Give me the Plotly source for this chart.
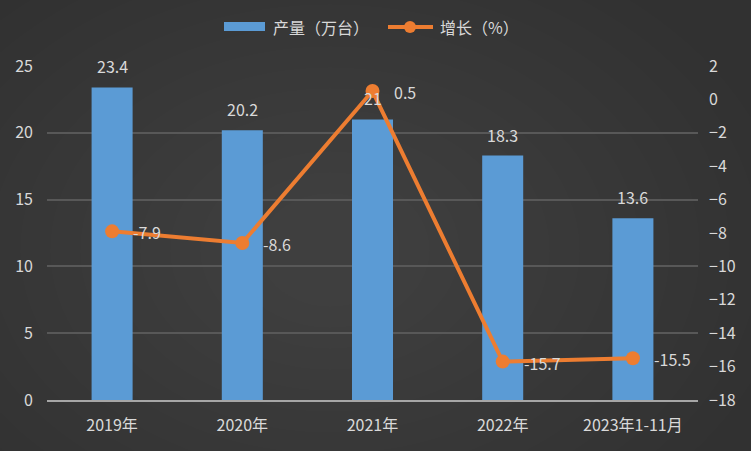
import plotly.graph_objects as go

categories = ["2019年", "2020年", "2021年", "2022年", "2023年1-11月"]
production = [23.4, 20.2, 21, 18.3, 13.6]
growth = [-7.9, -8.6, 0.5, -15.7, -15.5]
prod_labels = ["23.4", "20.2", "21", "18.3", "13.6"]
growth_labels = ["-7.9", "-8.6", "0.5", "-15.7", "-15.5"]
left_ticks = [0, 5, 10, 15, 20, 25]
right_ticks = [2, 0, -2, -4, -6, -8, -10, -12, -14, -16, -18]
series_names = ["产量（万台）", "增长（%）"]

FONT = "Noto Sans CJK SC"
TXT = "#d9d9d9"
BLUE = "#5b9bd5"
ORANGE = "#ed7d31"
W, H = 751, 451
L, R, T, B = 47, 53, 66, 51
PW, PH = W - L - R, H - T - B

def px(x):
    return (x - L) / PW

def py(y):
    return (H - B - y) / PH

fig = go.Figure()
fig.add_trace(go.Bar(
    x=categories, y=production, name=series_names[0],
    marker=dict(color=BLUE, line=dict(width=0)),
    width=0.315, showlegend=False, hoverinfo="skip",
))
fig.add_trace(go.Scatter(
    x=categories, y=growth, name=series_names[1], yaxis="y2",
    mode="lines+markers",
    line=dict(color=ORANGE, width=4),
    marker=dict(color=ORANGE, size=14),
    showlegend=False,
))

shapes = []
# soft radial background glow
n = 14
for i in range(n):
    rx = 460 - i * 30
    ry = 330 - i * 21
    cx, cy = 330, 250
    shapes.append(dict(type="circle", xref="paper", yref="paper", layer="below",
                       x0=px(cx - rx), x1=px(cx + rx), y0=py(cy + ry), y1=py(cy - ry),
                       fillcolor="rgba(255,255,255,0.008)", line=dict(width=0)))
# manual legend
shapes.append(dict(type="rect", xref="paper", yref="paper",
                   x0=px(224), x1=px(265), y0=py(31), y1=py(22),
                   fillcolor=BLUE, line=dict(width=0)))
shapes.append(dict(type="line", xref="paper", yref="paper",
                   x0=px(388), x1=px(433), y0=py(27), y1=py(27),
                   line=dict(color=ORANGE, width=4)))
shapes.append(dict(type="circle", xref="paper", yref="paper",
                   x0=px(404), x1=px(416), y0=py(33), y1=py(21),
                   fillcolor=ORANGE, line=dict(width=0)))

lab_font = dict(size=16, color=TXT, family=FONT)
annotations = [
    dict(text=series_names[0], xref="paper", yref="paper", x=px(271), y=py(27),
         xanchor="left", yanchor="middle", showarrow=False, font=lab_font),
    dict(text=series_names[1], xref="paper", yref="paper", x=px(438), y=py(27),
         xanchor="left", yanchor="middle", showarrow=False, font=lab_font),
]
for c, v, t in zip(categories, production, prod_labels):
    annotations.append(dict(text=t, x=c, y=v, xref="x", yref="y", showarrow=False,
                            xanchor="center", yanchor="bottom", yshift=7, font=lab_font))
for c, v, t in zip(categories, growth, growth_labels):
    annotations.append(dict(text=t, x=c, y=v, xref="x", yref="y2", showarrow=False,
                            xanchor="left", yanchor="middle", xshift=19, yshift=-1,
                            font=lab_font))

fig.update_layout(
    width=W, height=H,
    margin=dict(l=L, r=R, t=T, b=B),
    paper_bgcolor="#313131", plot_bgcolor="rgba(0,0,0,0)",
    font=dict(family=FONT, color=TXT, size=16),
    showlegend=False,
    bargap=0.685,
    shapes=shapes, annotations=annotations,
    xaxis=dict(showgrid=False, showline=True, linecolor="#a6a6a6", linewidth=2,
               ticks="", tickfont=dict(size=16, color=TXT), ticklabelstandoff=10,
               automargin=False),
    yaxis=dict(range=[0, 25], tickvals=left_ticks, showgrid=True, gridcolor="#585858",
               gridwidth=1.5, zeroline=False, ticks="", tickfont=dict(size=16, color=TXT),
               ticklabelstandoff=13, automargin=False),
    yaxis2=dict(range=[-18, 2], tickvals=right_ticks, overlaying="y", side="right",
                showgrid=False, zeroline=False, ticks="", tickfont=dict(size=16, color=TXT),
                ticklabelstandoff=10, automargin=False),
)

fig.write_html("out.html", config={"displayModeBar": False},
               post_script="document.body.style.margin='0';document.body.style.overflow='hidden';")
